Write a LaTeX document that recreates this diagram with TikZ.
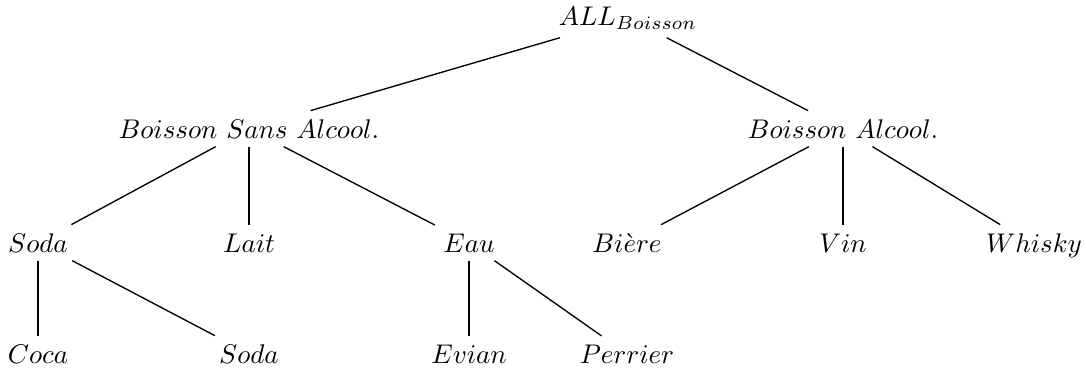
\documentclass[tikz,border=0pt]{standalone}
\usepackage{tikz}
\begin{document}
\begin{tikzpicture}[x=0.3704pt,y=-0.3704pt,
    every node/.style={anchor=base,inner sep=3pt},
    lien/.style={line width=0.5pt}]
  \useasboundingbox (0,0) rectangle (1086,371);
  %% Racine
  \node (all) at (628,25) {$ALL_{Boisson}$};

  %% Premier niveau
  \node (bsa) at (249,138) {$Boisson\ Sans\ Alcool.$};
  \node (ba)  at (843,138) {$Boisson\ Alcool.$};

  %% Deuxieme niveau
  \node (soda)   at (38,252)   {$Soda$};
  \node (lait)   at (249,252)  {$Lait$};
  \node (eau)    at (469,252)  {$Eau$};
  \node (biere)  at (627,252)  {$Bi\grave{e}re$};
  \node (vin)    at (843,252)  {$Vin$};
  \node (whisky) at (1034,252) {$Whisky$};

  %% Feuilles
  \node (coca)    at (38,363)  {$Coca$};
  \node (soda2)   at (249,363) {$Soda$};
  \node (evian)   at (469,363) {$Evian$};
  \node (perrier) at (627,363) {$Perrier$};

  \draw[lien] (all) -- (bsa);
  \draw[lien] (all) -- (ba);
  \draw[lien] (bsa) -- (soda);
  \draw[lien] (bsa) -- (lait);
  \draw[lien] (bsa) -- (eau);
  \draw[lien] (ba) -- (biere);
  \draw[lien] (ba) -- (vin);
  \draw[lien] (ba) -- (whisky);
  \draw[lien] (soda) -- (coca);
  \draw[lien] (soda) -- (soda2);
  \draw[lien] (eau) -- (evian);
  \draw[lien] (eau) -- (perrier);
\end{tikzpicture}
\end{document}
